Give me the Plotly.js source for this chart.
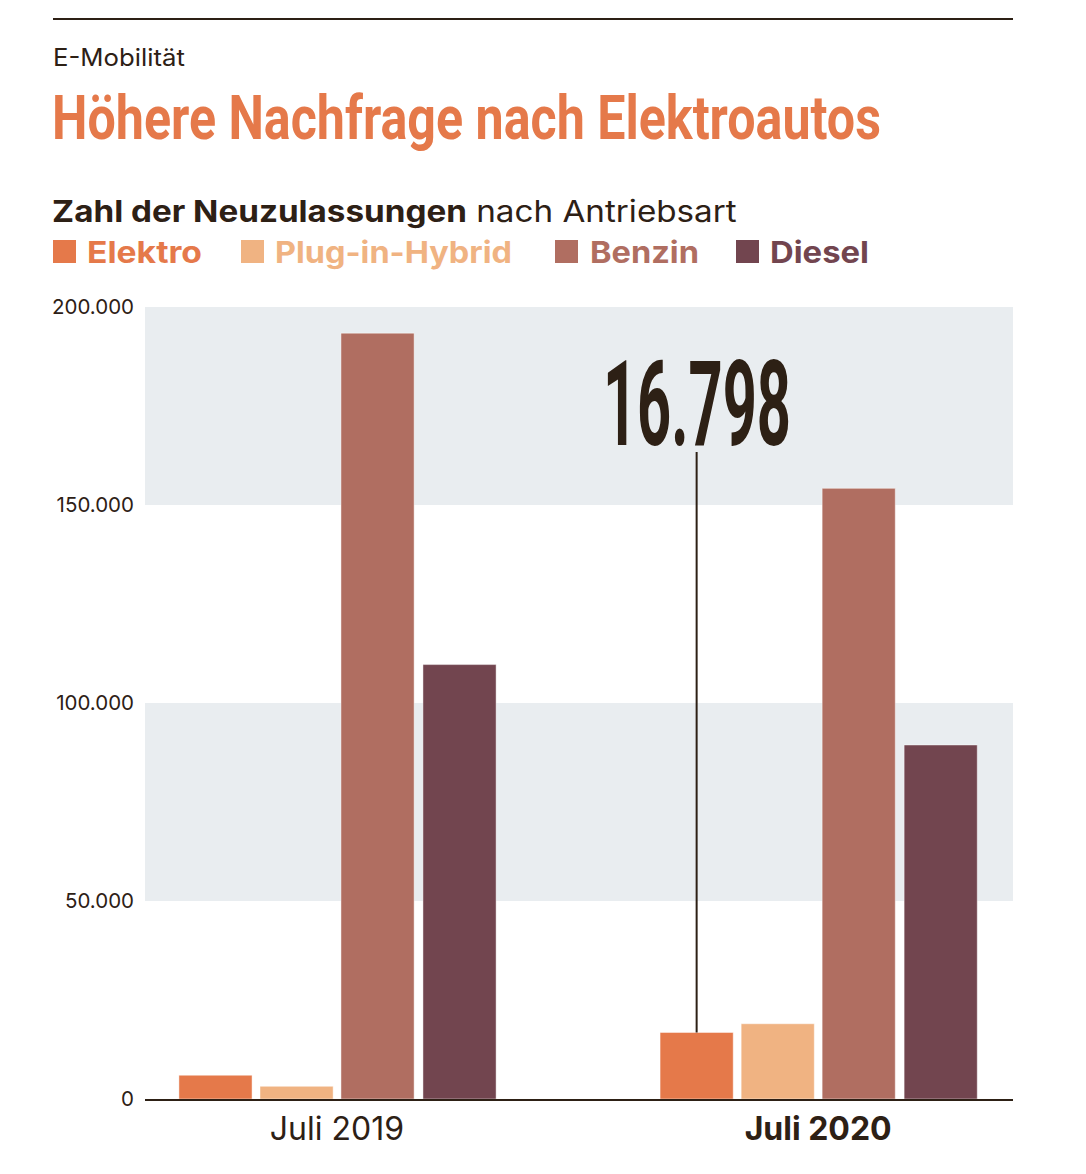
<!DOCTYPE html>
<html>
<head>
<meta charset="utf-8">
<script src="https://cdn.plot.ly/plotly-3.0.1.min.js"></script>
<style>
  html, body { margin: 0; padding: 0; background: #ffffff; }
  #chart { width: 1086px; height: 1174px; }
</style>
</head>
<body>
<div id="chart"></div>
<script>
// ---- data ----
const categories = ['Juli 2019', 'Juli 2020'];
const tickLabels = ['Juli 2019', '<b>Juli 2020</b>'];
const seriesNames = ['Elektro', 'Plug-in-Hybrid', 'Benzin', 'Diesel'];
const elektro = [6000, 16798];
const plugin = [3200, 19000];
const benzin = [193400, 154200];
const diesel = [109700, 89400];
const yTickVals = [0, 50000, 100000, 150000, 200000];
const yTickText = ['0', '50.000', '100.000', '150.000', '200.000'];
const highlightLabel = '16.798';

// ---- styling ----
const colors = ['#e5794a', '#f0b382', '#b06e61', '#72454f'];
const dark = '#2d2015';
const baseFont = 'Inter, Roboto, "Liberation Sans", sans-serif';
const headFont = 'Roboto, "Liberation Sans", sans-serif';

// plot area in pixels
const L = 145, R = 1013, T = 307, B = 1099;
const W = 1086, H = 1174;
const pxX = p => (p - L) / (R - L);
const pxY = p => (B - p) / (B - T);

const barWidth = 0.152;
const offsets = [-0.3285, -0.160, 0.0083, 0.1787];
const seriesValues = [elektro, plugin, benzin, diesel];

const traces = seriesValues.map((vals, i) => ({
  type: 'bar',
  name: seriesNames[i],
  x: categories,
  y: vals,
  width: barWidth,
  offset: offsets[i],
  marker: { color: colors[i], line: { color: 'rgba(255,255,255,0.45)', width: 1 } },
  showlegend: false,
  hoverinfo: 'x+y+name'
}));

const leaderX = 1 + offsets[0] + barWidth / 2;

const shapes = [
  { type: 'rect', xref: 'paper', yref: 'y', x0: 0, x1: 1, y0: 150000, y1: 200000, fillcolor: '#e9edf0', line: { width: 0 }, layer: 'below' },
  { type: 'rect', xref: 'paper', yref: 'y', x0: 0, x1: 1, y0: 50000, y1: 100000, fillcolor: '#e9edf0', line: { width: 0 }, layer: 'below' },
  { type: 'line', xref: 'paper', yref: 'paper', x0: pxX(53), x1: pxX(1013), y0: pxY(19), y1: pxY(19), line: { color: dark, width: 2 } },
  { type: 'line', xref: 'x', yref: 'y', x0: leaderX, x1: leaderX, y0: elektro[1], y1: 163400, line: { color: dark, width: 2 } }
];

const legendX = [53, 241, 555, 736];
legendX.forEach((lx, i) => {
  shapes.push({ type: 'rect', xref: 'paper', yref: 'paper', x0: pxX(lx), x1: pxX(lx + 23), y0: pxY(263), y1: pxY(240), fillcolor: colors[i], line: { width: 0 } });
});

// annotations; fits hold the target text width in pixels
const annotations = [];
const fits = [];
function addText(text, x, y, xanchor, font, fit) {
  annotations.push({ text: text, xref: 'paper', yref: 'paper', x: pxX(x), y: pxY(y), xanchor: xanchor, yanchor: 'middle', showarrow: false, borderpad: 0, font: font });
  fits.push(fit);
}
addText('E-Mobilität', 52, 58, 'left', { family: baseFont, size: 24, color: dark }, 132);
addText('<b>Höhere Nachfrage nach Elektroautos</b>', 51, 118, 'left', { family: headFont, size: 61, color: colors[0] }, 829);
addText('<b>Zahl der Neuzulassungen</b> nach Antriebsart', 51, 211, 'left', { family: baseFont, size: 30, color: dark }, 685);
annotations.push({ text: '<b>' + highlightLabel + '</b>', xref: 'x', yref: 'y', x: leaderX, y: 175500, xanchor: 'center', yanchor: 'middle', showarrow: false, borderpad: 0, font: { family: headFont, size: 119, color: dark } });
fits.push(188);
const legendTextX = [86, 274, 589, 769];
const legendTextW = [115, 237, 109, 99];
seriesNames.forEach((n, i) => {
  addText('<b>' + n + '</b>', legendTextX[i], 252, 'left', { family: baseFont, size: 30, color: colors[i] }, legendTextW[i]);
});

const layout = {
  width: W, height: H,
  margin: { l: L, r: W - R, t: T, b: H - B, pad: 0 },
  paper_bgcolor: '#ffffff',
  plot_bgcolor: 'rgba(0,0,0,0)',
  barmode: 'overlay',
  showlegend: false,
  font: { family: baseFont, color: dark },
  xaxis: {
    type: 'category',
    range: [-0.399, 1.405],
    tickvals: categories,
    ticktext: tickLabels,
    tickfont: { family: baseFont, size: 32, color: dark },
    showgrid: false, zeroline: false,
    showline: true, linecolor: dark, linewidth: 2,
    ticks: '', ticklabelstandoff: 1,
    fixedrange: true
  },
  yaxis: {
    range: [0, 200000],
    tickvals: yTickVals,
    ticktext: yTickText,
    tickfont: { family: baseFont, size: 20.5, color: dark },
    showgrid: false, zeroline: false, showline: false,
    ticks: '', ticklabelstandoff: 10,
    fixedrange: true
  },
  shapes: shapes,
  annotations: annotations
};

function fitTexts() {
  fits.forEach((target, i) => {
    if (!target) return;
    const el = document.querySelector('.annotation[data-index="' + i + '"] .annotation-text');
    if (!el) return;
    const bb = el.getBBox();
    if (!bb.width) return;
    const s = target / bb.width;
    const ax = annotations[i].xanchor === 'center' ? bb.x + bb.width / 2 : bb.x;
    const prev = el.getAttribute('transform') || '';
    el.setAttribute('transform', (prev + ' translate(' + ax + ',0) scale(' + s + ',1) translate(' + (-ax) + ',0)').trim());
  });
}

Plotly.newPlot('chart', traces, layout, { displayModeBar: false, staticPlot: true }).then(fitTexts);
</script>
</body>
</html>
